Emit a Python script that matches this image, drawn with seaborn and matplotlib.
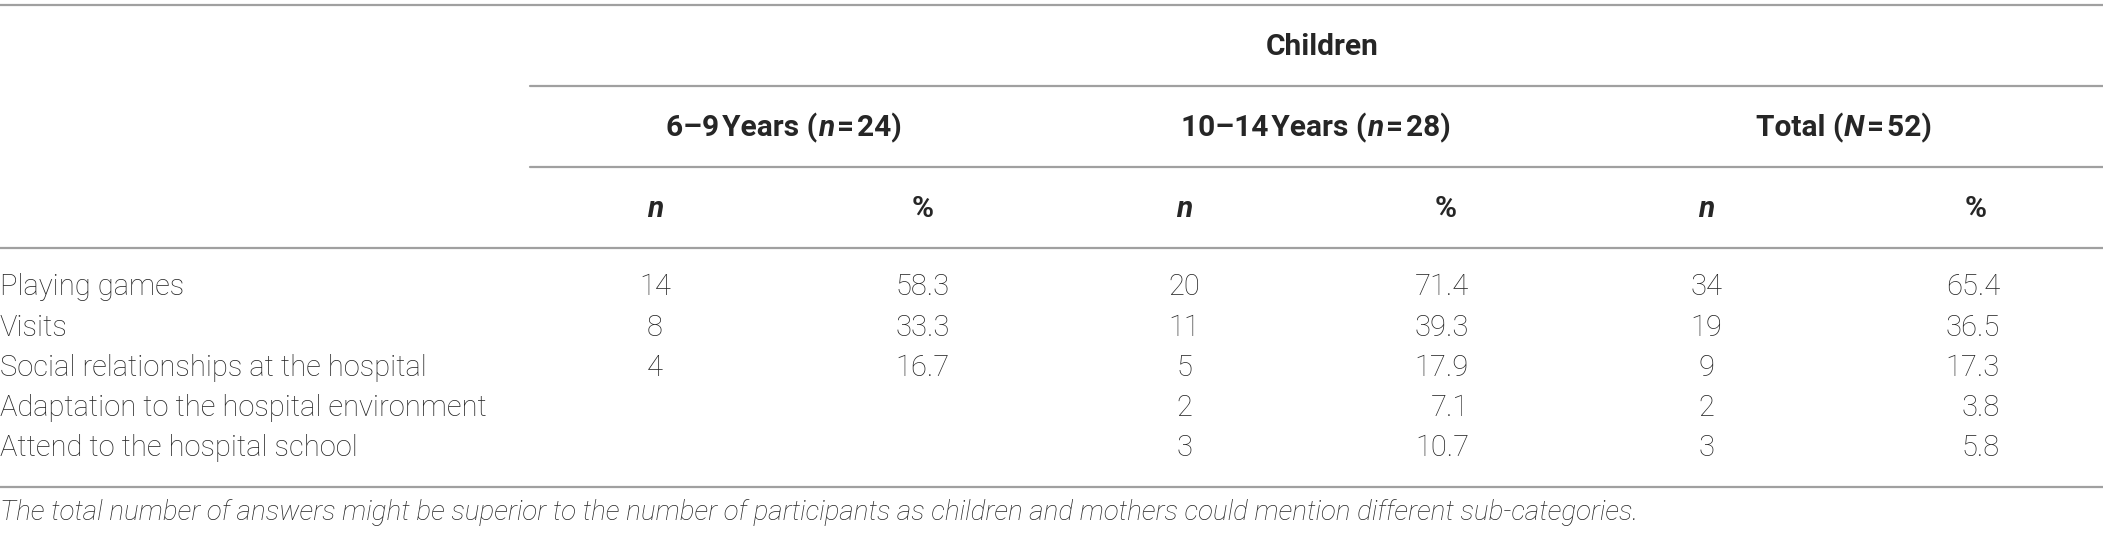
import matplotlib
matplotlib.use("Agg")
import matplotlib.pyplot as plt
import seaborn as sns

# data of the table
categories = ['Playing games', 'Visits', 'Social relationships at the hospital',
              'Adaptation to the hospital environment', 'Attend to the hospital school']
n_6_9 = ['14', '8', '4', '', '']
pct_6_9 = ['58.3', '33.3', '16.7', '', '']
n_10_14 = ['20', '11', '5', '2', '3']
pct_10_14 = ['71.4', '39.3', '17.9', '7.1', '10.7']
n_total = ['34', '19', '9', '2', '3']
pct_total = ['65.4', '36.5', '17.3', '3.8', '5.8']
group_title = 'Children'
group_labels = [[('6–9\u200aYears (', 'bold'), ('n', 'bolditalic'), ('\u200a=\u200a24)', 'bold')],
                [('10–14\u200aYears (', 'bold'), ('n', 'bolditalic'), ('\u200a=\u200a28)', 'bold')],
                [('Total (', 'bold'), ('N', 'bolditalic'), ('\u200a=\u200a52)', 'bold')]]
footnote = ('The total number of answers might be superior to the number of participants '
            'as children and mothers could mention different sub-categories.')

sns.set_theme(style="white")
plt.rcParams['font.family'] = ['Roboto', 'DejaVu Sans']

W, H = 2103, 535
fig = plt.figure(figsize=(W / 100, H / 100), dpi=100)
ax = fig.add_axes([0, 0, 1, 1])
ax.set_xlim(0, W)
ax.set_ylim(H, 0)
ax.axis('off')

fs = 21
fs_head = 21.5
line_col = '#a0a0a0'

# horizontal rules
ax.plot([0, W], [4.5, 4.5], color=line_col, lw=1.6)
ax.plot([530, W], [86, 86], color=line_col, lw=1.6)
ax.plot([530, W], [167, 167], color=line_col, lw=1.6)
ax.plot([0, W], [248, 248], color=line_col, lw=1.6)
ax.plot([0, W], [487, 487], color=line_col, lw=1.6)

ax.text(1322, 47, group_title, ha='center', va='center', fontsize=fs_head, fontweight='bold')

styles = {'bold': dict(fontweight='bold', fontstyle='normal'),
          'bolditalic': dict(fontweight='bold', fontstyle='italic')}


def draw_pieces(pieces, xc, y):
    fig.canvas.draw()
    r = fig.canvas.get_renderer()
    objs = []
    for txt, st in pieces:
        t = ax.text(0, y, txt, ha='left', va='center', fontsize=fs_head, **styles[st])
        objs.append(t)
    widths = [t.get_window_extent(r).width for t in objs]
    x = xc - sum(widths) / 2
    for t, w in zip(objs, widths):
        t.set_x(x)
        x += w


group_x = [784, 1316, 1844]
n_x = [655, 1184, 1706]
pct_hdr_x = [923, 1446, 1976]
pct_right = [950, 1469, 2000]

for pieces, xc in zip(group_labels, group_x):
    draw_pieces(pieces, xc, 128)

for i in range(3):
    ax.text(n_x[i], 209, 'n', ha='center', va='center', fontsize=fs_head,
            fontweight='bold', fontstyle='italic')
    ax.text(pct_hdr_x[i], 209, '%', ha='center', va='center', fontsize=fs_head, fontweight='bold')

row_y = [287, 327.5, 367.5, 407.5, 447.5]
cols = [(n_6_9, pct_6_9), (n_10_14, pct_10_14), (n_total, pct_total)]
for j, y in enumerate(row_y):
    ax.text(0, y, categories[j], ha='left', va='center', fontsize=fs, fontweight='light')
    for i, (nn, pp) in enumerate(cols):
        ax.text(n_x[i], y, nn[j], ha='center', va='center', fontsize=fs, fontweight='light')
        ax.text(pct_right[i], y, pp[j], ha='right', va='center', fontsize=fs, fontweight='light')

ax.text(0, 513, footnote, ha='left', va='center', fontsize=20,
        fontstyle='italic', fontweight='light')

fig.savefig('out.png', dpi=100, facecolor='white')
